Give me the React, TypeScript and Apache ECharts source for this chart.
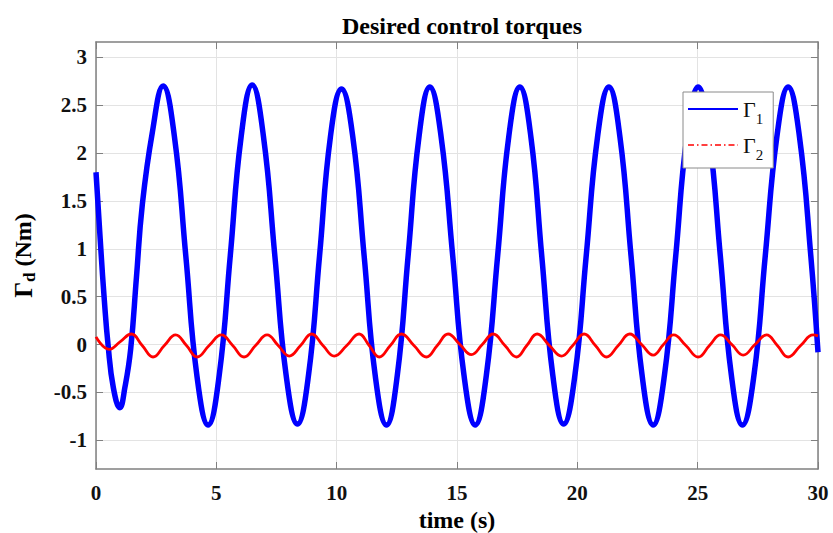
import React, { useEffect, useRef } from "react";
import * as echarts from "echarts";

const titleText = "Desired control torques";
const xTicks = [0, 5, 10, 15, 20, 25, 30];
const yTicks = [-1, -0.5, 0, 0.5, 1, 1.5, 2, 2.5, 3];
const seriesNames = ["Γ1", "Γ2"];

// Γ1 (t [s], torque [Nm])
const gamma1: [number, number][] = [
  [0, 1.8], [0.2, 1.0], [0.35, 0.45], [0.5, 0.0], [0.72, -0.45], [0.99, -0.66],
  [1.2, -0.45], [1.44, -0.05], [1.68, 0.7], [1.92, 1.45], [2.33, 2.2], [2.79, 2.7],
  [3.26, 2.17], [3.73, 0.93], [4.19, -0.32], [4.66, -0.84],
  [5.12, -0.32], [5.58, 0.93], [6.03, 2.17], [6.49, 2.71],
  [6.96, 2.17], [7.43, 0.93], [7.9, -0.32], [8.37, -0.83],
  [8.83, -0.32], [9.29, 0.93], [9.74, 2.17], [10.2, 2.67],
  [10.67, 2.17], [11.14, 0.93], [11.6, -0.32], [12.07, -0.84],
  [12.52, -0.32], [12.97, 0.93], [13.42, 2.17], [13.87, 2.69],
  [14.34, 2.17], [14.82, 0.93], [15.29, -0.32], [15.76, -0.84],
  [16.22, -0.32], [16.69, 0.93], [17.15, 2.17], [17.61, 2.69],
  [18.07, 2.17], [18.52, 0.93], [18.98, -0.32], [19.43, -0.83],
  [19.9, -0.32], [20.37, 0.93], [20.84, 2.17], [21.31, 2.69],
  [21.77, 2.17], [22.23, 0.93], [22.69, -0.32], [23.15, -0.84],
  [23.62, -0.32], [24.09, 0.93], [24.55, 2.17], [25.02, 2.69],
  [25.48, 2.17], [25.94, 0.93], [26.4, -0.32], [26.86, -0.84],
  [27.34, -0.32], [27.81, 0.93], [28.29, 2.17], [28.76, 2.69],
  [29.23, 2.17], [29.7, 0.93], [30, -0.08],
];

// Γ2 (t [s], torque [Nm])
const gamma2: [number, number][] = [
  [0, 0.08], [0.55, -0.05], [1.01, 0.03], [1.47, 0.11], [1.92, -0.01], [2.37, -0.13],
  [2.84, -0.01], [3.31, 0.1], [3.76, -0.01], [4.2, -0.13], [4.7, -0.01], [5.21, 0.1],
  [5.68, -0.01], [6.15, -0.13], [6.63, -0.01], [7.11, 0.1], [7.57, -0.01], [8.03, -0.12],
  [8.5, -0.01], [8.96, 0.11], [9.43, -0.01], [9.9, -0.12], [10.42, -0.01], [10.93, 0.11],
  [11.35, -0.01], [11.77, -0.13], [12.23, -0.01], [12.69, 0.11], [13.21, -0.01], [13.73, -0.13],
  [14.18, -0.01], [14.63, 0.11], [15.12, 0.0], [15.6, -0.105], [16.05, 0.0], [16.5, 0.11],
  [16.99, -0.01], [17.47, -0.13], [17.9, -0.01], [18.33, 0.11], [18.84, -0.01], [19.34, -0.12],
  [19.81, -0.01], [20.28, 0.11], [20.75, -0.01], [21.21, -0.13], [21.7, -0.01], [22.18, 0.11],
  [22.67, 0.0], [23.15, -0.11], [23.58, 0.0], [24.0, 0.1], [24.51, -0.01], [25.02, -0.13],
  [25.49, -0.01], [25.95, 0.1], [26.42, 0.0], [26.89, -0.11], [27.38, 0.0], [27.86, 0.1],
  [28.31, -0.01], [28.76, -0.13], [29.28, -0.01], [29.8, 0.1], [30, 0.09],
];

const SERIF = "'Liberation Serif', 'Times New Roman', serif";
const AXIS_COLOR = "#808080";
const GRID_COLOR = "#e3e3e3";

export default function App() {
  const ref = useRef<HTMLDivElement>(null);

  useEffect(() => {
    if (!ref.current) return;
    const chart = echarts.init(ref.current, null, { renderer: "svg" });

    const axisLine = { show: true, onZero: false, lineStyle: { color: AXIS_COLOR, width: 1.5 } };
    const tickStyle = { show: true, inside: true, length: 7, lineStyle: { color: AXIS_COLOR, width: 1 } };
    const labelStyle = {
      fontFamily: SERIF,
      fontWeight: "bold" as const,
      fontSize: 21,
      color: "#111",
    };

    const option: any = {
      animation: false,
      backgroundColor: "#ffffff",
      title: {
        text: titleText,
        left: 457,
        textAlign: "center",
        top: 9,
        textStyle: { fontFamily: SERIF, fontWeight: "bold", fontSize: 24, color: "#000" },
      },
      grid: { left: 96, top: 42, right: 15, bottom: 64, containLabel: false, outerBoundsMode: "none" },
      legend: {
        orient: "vertical",
        left: 683,
        top: 92,
        backgroundColor: "#ffffff",
        borderColor: "#8a8a8a",
        borderWidth: 1,
        borderRadius: 0,
        padding: [6, 10, 6, 4],
        itemGap: 8,
        itemWidth: 50,
        itemHeight: 14,
        formatter: (name: string) => `{g|Γ}{s|${name.slice(1)}}`,
        textStyle: {
          fontFamily: SERIF,
          color: "#111",
          rich: {
            g: { fontFamily: SERIF, fontSize: 22, lineHeight: 34, color: "#111", verticalAlign: "middle" },
            s: { fontFamily: SERIF, fontSize: 15, lineHeight: 16, color: "#111", verticalAlign: "bottom" },
          },
        },
        data: [
          {
            name: seriesNames[0],
            itemStyle: { opacity: 0 },
            lineStyle: { width: 2, color: "#0000ff", type: "solid" },
          },
          {
            name: seriesNames[1],
            itemStyle: { opacity: 0 },
            lineStyle: { width: 1.5, color: "#ff0000", type: [6, 3, 1.5, 3] },
          },
        ],
      },
      xAxis: [
        {
          type: "value",
          position: "bottom",
          min: xTicks[0],
          max: xTicks[xTicks.length - 1],
          interval: 5,
          axisLine,
          axisTick: tickStyle,
          axisLabel: { ...labelStyle, margin: 13 },
          splitLine: { show: true, lineStyle: { color: GRID_COLOR, width: 1 } },
          name: "time (s)",
          nameLocation: "middle",
          nameGap: 38,
          nameTextStyle: { fontFamily: SERIF, fontWeight: "bold", fontSize: 24, lineHeight: 24, color: "#000" },
        },
        {
          type: "value",
          position: "top",
          min: xTicks[0],
          max: xTicks[xTicks.length - 1],
          interval: 5,
          axisLine,
          axisTick: tickStyle,
          axisLabel: { show: false },
          splitLine: { show: false },
        },
      ],
      yAxis: [
        {
          type: "value",
          position: "left",
          min: -1.3,
          max: 3.16,
          axisLine,
          axisTick: { ...tickStyle, customValues: yTicks },
          axisLabel: { ...labelStyle, margin: 9, customValues: yTicks },
          splitLine: { show: true, lineStyle: { color: GRID_COLOR, width: 1 } },
          name: "{g|Γ}{d|d}{n| (Nm)}",
          nameLocation: "middle",
          nameGap: 58,
          nameTextStyle: {
            fontFamily: SERIF,
            fontWeight: "bold",
            color: "#000",
            rich: {
              g: { fontFamily: SERIF, fontWeight: "bold", fontSize: 25, lineHeight: 30, color: "#000", verticalAlign: "middle" },
              d: { fontFamily: SERIF, fontWeight: "bold", fontSize: 17, lineHeight: 14, color: "#000", verticalAlign: "bottom" },
              n: { fontFamily: SERIF, fontWeight: "bold", fontSize: 24, lineHeight: 30, color: "#000", verticalAlign: "middle" },
            },
          },
        },
        {
          type: "value",
          position: "right",
          min: -1.3,
          max: 3.16,
          axisLine,
          axisTick: { ...tickStyle, customValues: yTicks },
          axisLabel: { show: false, customValues: yTicks },
          splitLine: { show: false },
        },
      ],
      series: [
        {
          name: seriesNames[0],
          type: "line",
          data: gamma1,
          smooth: 0.45,
          symbol: "none",
          lineStyle: { color: "#0000ff", width: 5.5 },
          itemStyle: { color: "#0000ff" },
          z: 2,
        },
        {
          name: seriesNames[1],
          type: "line",
          data: gamma2,
          smooth: 0.45,
          symbol: "none",
          lineStyle: { color: "#ff0000", width: 2.8 },
          itemStyle: { color: "#ff0000" },
          z: 3,
        },
      ],
    };

    chart.setOption(option);
    return () => chart.dispose();
  }, []);

  return (
    <div
      ref={ref}
      style={{ position: "fixed", left: 0, top: 0, width: 833, height: 533, background: "#fff" }}
    />
  );
}
